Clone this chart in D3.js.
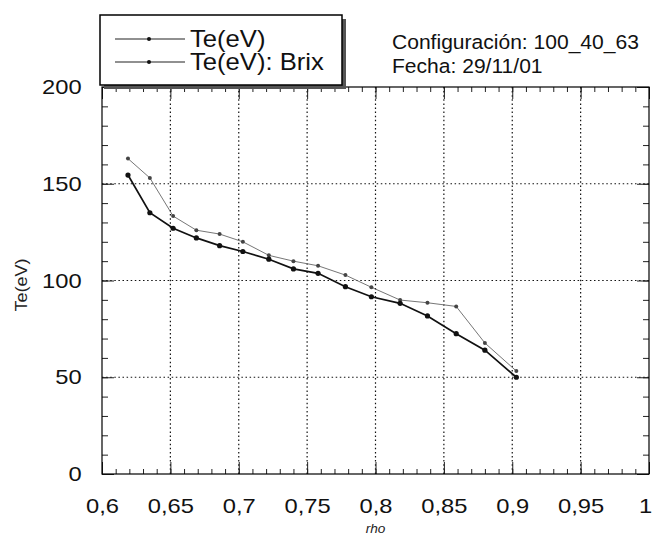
<!DOCTYPE html>
<html>
<head>
<meta charset="utf-8">
<script src="https://cdn.jsdelivr.net/npm/d3@7"></script>
<style>
  body { margin: 0; background: #fff; }
  svg { display: block; font-family: "Liberation Sans", Arial, sans-serif; }
</style>
</head>
<body>
<div id="chart"></div>
<script>
// data
var rho = [0.619, 0.635, 0.652, 0.669, 0.686, 0.703, 0.722, 0.740,
           0.758, 0.778, 0.797, 0.818, 0.838, 0.859, 0.880, 0.903];
var te = [154.5, 135, 127, 122, 118, 115, 111, 106,
          103.7, 96.8, 91.6, 88.2, 81.7, 72.5, 64, 50];
var teBrix = [163, 153, 133.3, 126, 124, 120, 113, 110,
              107.6, 102.8, 96.5, 89.9, 88.5, 86.6, 67.7, 53.2];
var xTicks = [0.6, 0.65, 0.7, 0.75, 0.8, 0.85, 0.9, 0.95, 1];
var yTicks = [0, 50, 100, 150, 200];
var seriesNames = ["Te(eV)", "Te(eV): Brix"];

var width = 654, height = 537;
var plotL = 102, plotR = 649, plotT = 87, plotB = 474;
var sx = 1.13; // the scan's lettering is a bit wide

var x = d3.scaleLinear().domain([0.6, 1]).range([plotL, plotR]);
var y = d3.scaleLinear().domain([0, 200]).range([plotB, plotT]);

var svg = d3.select("#chart").append("svg")
  .attr("width", width)
  .attr("height", height);

// dotted grid
svg.append("g").selectAll("line")
  .data(xTicks.slice(1, -1)).enter().append("line")
    .attr("x1", function(d){ return x(d); })
    .attr("x2", function(d){ return x(d); })
    .attr("y1", plotT).attr("y2", plotB)
    .attr("stroke", "#111").attr("stroke-width", 1.2)
    .attr("stroke-dasharray", "1.5,2.6");
svg.append("g").selectAll("line")
  .data(yTicks.slice(1, -1)).enter().append("line")
    .attr("y1", function(d){ return y(d); })
    .attr("y2", function(d){ return y(d); })
    .attr("x1", plotL).attr("x2", plotR)
    .attr("stroke", "#111").attr("stroke-width", 1.2)
    .attr("stroke-dasharray", "1.5,2.6");

// inward ticks on all four sides
var xMinor = d3.range(60, 101).map(function(d){ return d / 100; });
var yMinor = d3.range(0, 201, 10);

function tickAxis(axis, size, vals, tr) {
  var g = svg.append("g").attr("transform", tr)
    .call(axis.tickValues(vals).tickSize(size).tickFormat(""));
  g.select(".domain").remove();
  g.selectAll("line").attr("stroke", "#222").attr("stroke-width", 1);
}
tickAxis(d3.axisBottom(x), -5, xMinor, "translate(0," + plotB + ")");
tickAxis(d3.axisBottom(x), -12, xTicks, "translate(0," + plotB + ")");
tickAxis(d3.axisTop(x), -5, xMinor, "translate(0," + plotT + ")");
tickAxis(d3.axisTop(x), -12, xTicks, "translate(0," + plotT + ")");
tickAxis(d3.axisLeft(y), -6, yMinor, "translate(" + plotL + ",0)");
tickAxis(d3.axisLeft(y), -12, yTicks, "translate(" + plotL + ",0)");
tickAxis(d3.axisRight(y), -6, yMinor, "translate(" + plotR + ",0)");
tickAxis(d3.axisRight(y), -12, yTicks, "translate(" + plotR + ",0)");

// frame
svg.append("rect")
  .attr("x", plotL).attr("y", plotT)
  .attr("width", plotR - plotL).attr("height", plotB - plotT)
  .attr("fill", "none").attr("stroke", "#000").attr("stroke-width", 1.2);

// tick labels
var xLab = svg.append("g").attr("transform", "translate(0," + plotB + ")")
  .call(d3.axisBottom(x).tickValues(xTicks).tickSize(0).tickPadding(24)
    .tickFormat(function(d){ return String(+d.toFixed(2)).replace(".", ","); }));
xLab.select(".domain").remove();
xLab.selectAll("text")
  .attr("font-family", "Liberation Sans, Arial, sans-serif")
  .attr("font-size", 21).attr("fill", "#111")
  .attr("transform", function(d){
    return (d === 1 ? "translate(-4,0) " : "") + "scale(" + sx + ",1)";
  });

var yLab = svg.append("g").attr("transform", "translate(" + plotL + ",0)")
  .call(d3.axisLeft(y).tickValues(yTicks).tickSize(0).tickPadding(18)
    .tickFormat(d3.format("d")));
yLab.select(".domain").remove();
yLab.selectAll("text")
  .attr("font-family", "Liberation Sans, Arial, sans-serif")
  .attr("font-size", 21).attr("fill", "#111")
  .attr("transform", "scale(" + sx + ",1)");

// axis titles
svg.append("text")
  .attr("transform", "translate(" + ((plotL + plotR) / 2) + ",533) scale(1.05,1)")
  .attr("text-anchor", "middle").attr("font-size", 13)
  .attr("font-style", "italic").attr("fill", "#222")
  .text("rho");
svg.append("text")
  .attr("transform", "translate(27,285) rotate(-90) scale(" + sx + ",1)")
  .attr("text-anchor", "middle").attr("font-size", 16).attr("fill", "#222")
  .text("Te(eV)");

// lines
var lineTe = d3.line()
  .x(function(d, i){ return x(rho[i]); })
  .y(function(d){ return y(d); });

svg.append("path").datum(teBrix)
  .attr("d", lineTe).attr("fill", "none")
  .attr("stroke", "#666").attr("stroke-width", 0.9);
svg.append("g").selectAll("circle")
  .data(teBrix).enter().append("circle")
    .attr("cx", function(d, i){ return x(rho[i]); })
    .attr("cy", function(d){ return y(d); })
    .attr("r", 2).attr("fill", "#444");

svg.append("path").datum(te)
  .attr("d", lineTe).attr("fill", "none")
  .attr("stroke", "#111").attr("stroke-width", 1.7);
svg.append("g").selectAll("circle")
  .data(te).enter().append("circle")
    .attr("cx", function(d, i){ return x(rho[i]); })
    .attr("cy", function(d){ return y(d); })
    .attr("r", 2.6).attr("fill", "#111");

// legend box with drop shadow
var leg = svg.append("g");
leg.append("rect")
  .attr("x", 104).attr("y", 19).attr("width", 242).attr("height", 70)
  .attr("fill", "#555");
leg.append("rect")
  .attr("x", 100).attr("y", 15).attr("width", 242).attr("height", 70)
  .attr("fill", "#fff").attr("stroke", "#000").attr("stroke-width", 1.5);

var legRows = leg.selectAll("g.row")
  .data(seriesNames).enter().append("g")
    .attr("class", "row")
    .attr("transform", function(d, i){ return "translate(0," + (39 + i * 23) + ")"; });
legRows.append("line")
  .attr("x1", 115).attr("x2", 185).attr("y1", 0).attr("y2", 0)
  .attr("stroke", "#222").attr("stroke-width", 1.1);
legRows.append("circle")
  .attr("cx", 149).attr("cy", 0).attr("r", 2).attr("fill", "#111");
legRows.append("text")
  .attr("transform", "translate(190,8) scale(1.115,1)")
  .attr("font-size", 23).attr("fill", "#111")
  .text(function(d){ return d; });

// header notes
svg.append("text")
  .attr("transform", "translate(392,49) scale(1.08,1)")
  .attr("font-size", 19.5).attr("fill", "#111")
  .text("Configuración: 100_40_63");
svg.append("text")
  .attr("transform", "translate(392,73) scale(1.08,1)")
  .attr("font-size", 19.5).attr("fill", "#111")
  .text("Fecha: 29/11/01");
</script>
</body>
</html>
